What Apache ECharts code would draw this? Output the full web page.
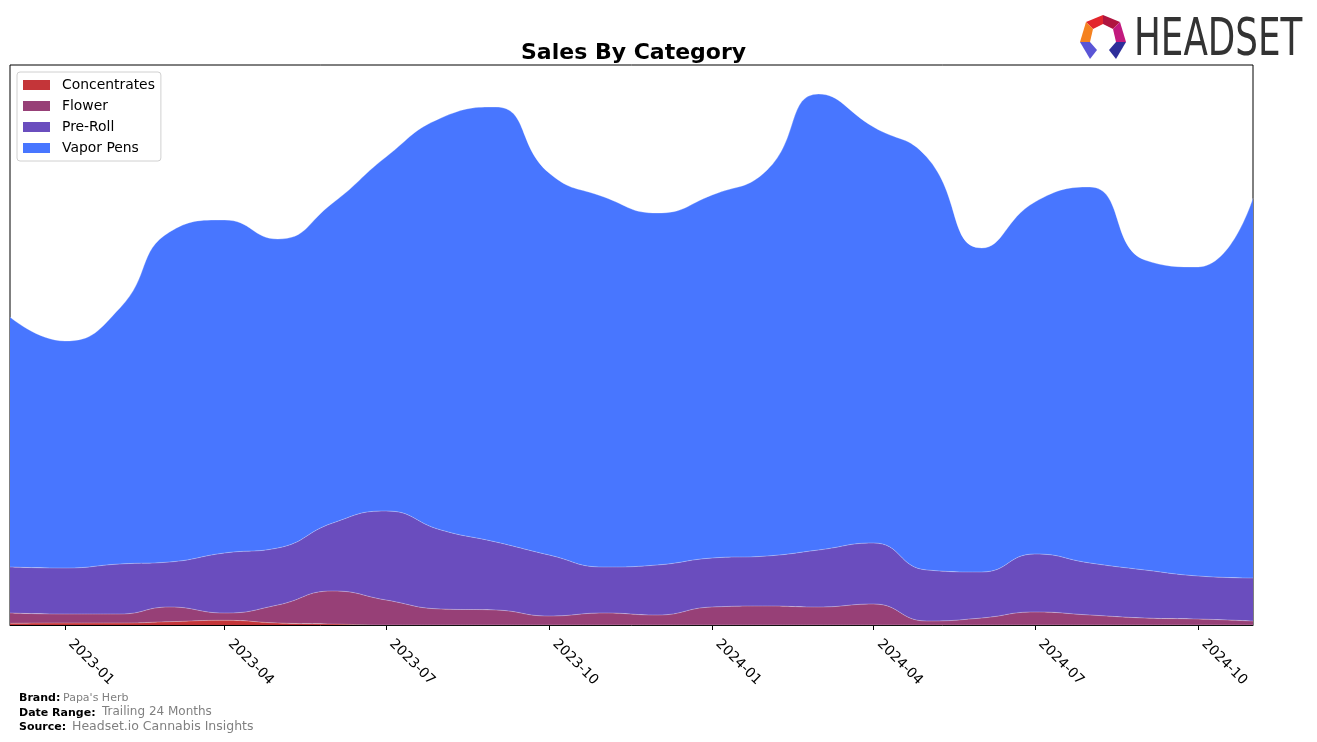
<!DOCTYPE html>
<html>
<head>
<meta charset="utf-8">
<script src="https://cdn.jsdelivr.net/npm/echarts@6/dist/echarts.min.js"></script>
<style>
html,body{margin:0;padding:0;background:#fff;}
#main{width:1317px;height:742px;}
</style>
</head>
<body>
<div id="main"></div>
<script>
const months = ['2022-12-01','2023-01-01','2023-02-01','2023-03-01','2023-04-01','2023-05-01','2023-06-01','2023-07-01','2023-08-01','2023-09-01','2023-10-01','2023-11-01','2023-12-01','2024-01-01','2024-02-01','2024-03-01','2024-04-01','2024-05-01','2024-06-01','2024-07-01','2024-08-01','2024-09-01','2024-10-01','2024-11-01'];
const concentrates = [1.7,2,2,3.3,4.7,2,1,0,0,0,0,0,0,0,0,0,0,0,0,0,0,0,0,0];
const flower = [10.3,9,9,14.7,7.3,18,33,25,16,15,9,12,10,18,19,18,21,4,7,13,10,7,6,4];
const preRoll = [46,46,50,45,60,57,68,89,79,68,61,46,50,49,50,57,61,51,46,58,52,48,43,43];
const vaporPens = [250,227,256,330,333,309,320,354,412,435,382,370,352,363,386,456,416,413,324,352,376,310,309,380];
const tickLabels = ['2023-01','2023-04','2023-07','2023-10','2024-01','2024-04','2024-07','2024-10'];
const seriesNames = ['Concentrates','Flower','Pre-Roll','Vapor Pens'];
const colors = ['#c43539','#974077','#6a4dbe','#4876ff'];

const FONT = 'DejaVu Sans';
function ts(s){ const p = s.split('-').map(Number); return Date.UTC(p[0], p[1]-1, p[2]||1); }
const tickValues = tickLabels.map(s => ts(s + '-01'));
function pad(n){ return n < 10 ? '0'+n : ''+n; }
const xMin = ts(months[0]), xMax = ts(months[months.length-1]);

const allData = [concentrates, flower, preRoll, vaporPens];
const series = allData.map((arr, i) => ({
  name: seriesNames[i],
  type: 'line',
  xAxisIndex: 0,
  stack: 'total',
  smooth: 0.5,
  showSymbol: false,
  symbol: 'none',
  lineStyle: { width: 0.8, color: 'rgba(255,255,255,0.35)' },
  areaStyle: { color: colors[i], opacity: 1 },
  itemStyle: { color: colors[i] },
  emphasis: { disabled: true },
  data: months.map((m, j) => [ts(m), arr[j]])
}));

const chart = echarts.init(document.getElementById('main'), null, {renderer: 'canvas'});
chart.setOption({
  animation: false,
  backgroundColor: '#fff',
  useUTC: true,
  title: {
    text: 'Sales By Category',
    left: 516, top: 37,
    textStyle: { fontFamily: FONT, fontWeight: 'bold', fontSize: 22, color: '#000' }
  },
  legend: {
    orient: 'vertical',
    left: 17, top: 72,
    padding: [6, 6, 6, 6],
    itemGap: 7,
    itemWidth: 27, itemHeight: 10,
    icon: 'rect',
    borderColor: '#d0d0d0', borderWidth: 1, borderRadius: 3,
    backgroundColor: 'rgba(255,255,255,0.8)',
    textStyle: { fontFamily: FONT, fontSize: 13.9, color: '#000', padding: [0,0,0,7] },
    data: seriesNames.map((n, i) => ({ name: n, itemStyle: { color: colors[i] } }))
  },
  grid: {
    left: 10, right: 64, top: 65, bottom: 117,
    show: true, borderColor: '#000', borderWidth: 1, backgroundColor: 'transparent'
  },
  xAxis: [{
    type: 'time',
    min: xMin, max: xMax,
    position: 'bottom',
    splitLine: { show: false },
    axisLine: { show: false },
    axisTick: { show: false },
    axisLabel: { show: false }
  }, {
    type: 'value',
    min: xMin, max: xMax,
    position: 'bottom',
    splitLine: { show: false },
    axisLine: { show: true, onZero: false, lineStyle: { color: '#000', width: 1 } },
    axisTick: { show: true, length: 5, lineStyle: { color: '#000' }, customValues: tickValues },
    axisLabel: {
      customValues: tickValues,
      rotate: -45,
      margin: 11,
      padding: [0, 0, 0, 8],
      fontFamily: FONT, fontSize: 13.9, color: '#000',
      formatter: function (v) { const d = new Date(v); return d.getUTCFullYear() + '-' + pad(d.getUTCMonth()+1); }
    }
  }],
  yAxis: {
    type: 'value', min: 0, max: 560,
    show: false,
    splitLine: { show: false }
  },
  series: series,
  graphic: [
    { type: 'text', left: 19, top: 693, style: { text: 'Brand:', font: 'bold 11px "DejaVu Sans"', fill: '#000' } },
    { type: 'text', left: 63, top: 693, style: { text: "Papa's Herb", font: '11px "DejaVu Sans"', fill: '#808080' } },
    { type: 'text', left: 19, top: 708, style: { text: 'Date Range:', font: 'bold 11px "DejaVu Sans"', fill: '#000' } },
    { type: 'text', left: 102, top: 706, style: { text: 'Trailing 24 Months', font: '12px "DejaVu Sans"', fill: '#808080' } },
    { type: 'text', left: 19, top: 722, style: { text: 'Source:', font: 'bold 11px "DejaVu Sans"', fill: '#000' } },
    { type: 'text', left: 72, top: 720, style: { text: 'Headset.io Cannabis Insights', font: '12.5px "DejaVu Sans"', fill: '#808080' } },
    { type: 'polygon', shape: { points: [[1086,22],[1103,15],[1103,24],[1093,29]] }, style: { fill: '#e3262c' } },
    { type: 'polygon', shape: { points: [[1103,15],[1120,22],[1113,29],[1103,24]] }, style: { fill: '#b01540' } },
    { type: 'polygon', shape: { points: [[1086,22],[1093,29],[1090,42],[1080,42]] }, style: { fill: '#f58220' } },
    { type: 'polygon', shape: { points: [[1120,22],[1126,42],[1116,42],[1113,29]] }, style: { fill: '#c21a7e' } },
    { type: 'polygon', shape: { points: [[1080,42],[1090,42],[1097,50],[1090,59]] }, style: { fill: '#5a55d6' } },
    { type: 'polygon', shape: { points: [[1116,42],[1126,42],[1116,59],[1109,50]] }, style: { fill: '#2e2e9a' } },
    { type: 'text', x: 1134, y: 16, scaleX: 0.7, style: { text: 'HEADSET', font: '51px "DejaVu Sans"', fill: '#333333' } }
  ]
});
</script>
</body>
</html>
